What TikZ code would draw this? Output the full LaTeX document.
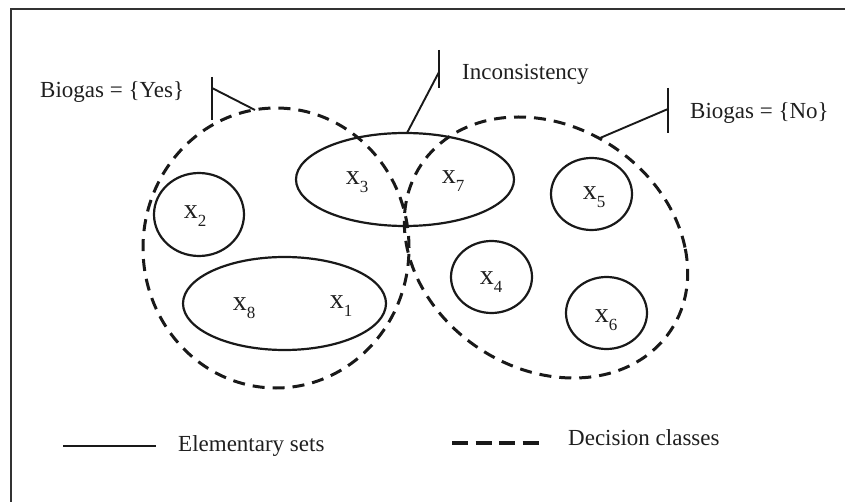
\documentclass[tikz,border=0pt]{standalone}
\usepackage{fontspec}
\setmainfont{Liberation Serif}
\usetikzlibrary{shapes.geometric}
\begin{document}
\begin{tikzpicture}[x=1pt,y=-1pt,
  elem/.style={draw=black!90,line width=2.2pt,ellipse,inner sep=0pt},
  dclass/.style={draw=black!90,line width=3pt,ellipse,inner sep=0pt,dash pattern=on 12pt off 8pt},
  lbl/.style={font=\fontsize{23}{27}\selectfont,inner sep=0pt,text=black!88},
  xl/.style={font=\fontsize{28}{30}\selectfont,inner sep=0pt,text=black!88},
  callout/.style={draw=black!90,line width=1.9pt},
  frame/.style={draw=black!80,line width=2.4pt}]
\useasboundingbox (0,0) rectangle (845,502);
% frame
\coordinate (fr1) at (11,9);
\coordinate (fr2) at (846,9);
\coordinate (fr3) at (11,503);
\draw[frame] (fr2) -- (fr1) -- (fr3);
% decision classes
\node[dclass,minimum width=266pt,minimum height=280pt] (dL) at (276,248) {};
\node[dclass,minimum width=278pt,minimum height=261pt,xslant=-0.21,transform shape] (dR) at (546,247.5) {};
% elementary sets
\node[elem,minimum width=218pt,minimum height=93pt] (e37) at (405,179.5) {};
\node[elem,minimum width=203pt,minimum height=93pt] (e81) at (284.5,303.5) {};
\node[elem,minimum width=90pt,minimum height=83pt] (e2) at (199,214.5) {};
\node[elem,minimum width=81pt,minimum height=72pt] (e5) at (591.5,194) {};
\node[elem,minimum width=81pt,minimum height=72pt] (e4) at (491.5,277) {};
\node[elem,minimum width=81pt,minimum height=72pt] (e6) at (606.5,313) {};
% element labels
\newcommand{\xsub}[1]{x\raisebox{-0.28em}{\fontsize{17}{17}\selectfont #1}}
\node[xl] (l3) at (357,182) {\xsub{3}};
\node[xl] (l7) at (453,181) {\xsub{7}};
\node[xl] (l2) at (195,216) {\xsub{2}};
\node[xl] (l5) at (594,197) {\xsub{5}};
\node[xl] (l4) at (491,282) {\xsub{4}};
\node[xl] (l6) at (606,320) {\xsub{6}};
\node[xl] (l8) at (244,308) {\xsub{8}};
\node[xl] (l1) at (341,306) {\xsub{1}};
% callouts
\node[lbl,anchor=base west] (tYes) at (40,98) {Biogas = \{Yes\}};
\coordinate (yA) at (212,77);
\coordinate (yB) at (212,120);
\coordinate (yM) at (212,88);
\coordinate (yE) at (255,110);
\draw[callout] (yA) -- (yB);
\draw[callout] (yM) -- (yE);
\node[lbl,anchor=base west] (tInc) at (462,80) {Inconsistency};
\coordinate (iA) at (439,50);
\coordinate (iB) at (439,88);
\coordinate (iM) at (439,72);
\coordinate (iE) at (407,133);
\draw[callout] (iA) -- (iB);
\draw[callout] (iM) -- (iE);
\node[lbl,anchor=base west] (tNo) at (690,119) {Biogas = \{No\}};
\coordinate (nA) at (668,88);
\coordinate (nB) at (668,133);
\coordinate (nM) at (668,109);
\coordinate (nE) at (600,138);
\draw[callout] (nA) -- (nB);
\draw[callout] (nM) -- (nE);
% legend
\coordinate (ls1) at (63,446);
\coordinate (ls2) at (156,446);
\draw[draw=black!90,line width=2.4pt] (ls1) -- (ls2);
\node[lbl,anchor=base west] (tElem) at (178,451) {Elementary sets};
\coordinate (ld1) at (452,443);
\coordinate (ld2) at (540,443);
\draw[draw=black!90,line width=3.2pt,dash pattern=on 16pt off 7.5pt] (ld1) -- (ld2);
\node[lbl,anchor=base west] (tDec) at (568,445) {Decision classes};
\end{tikzpicture}
\end{document}
